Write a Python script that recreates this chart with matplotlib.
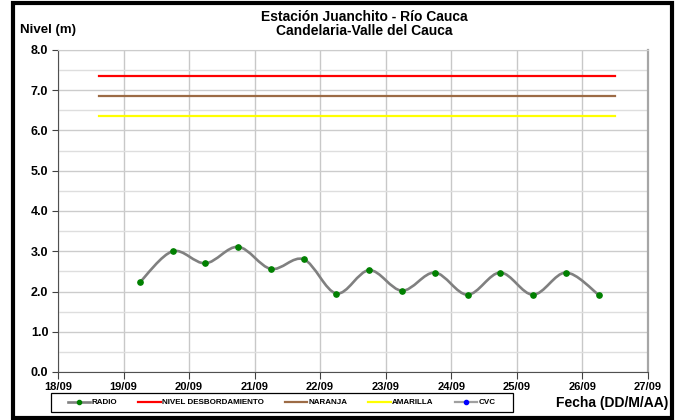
import numpy as np
import matplotlib
matplotlib.use('Agg')
import matplotlib.pyplot as plt
import matplotlib.dates as mdates
from matplotlib.lines import Line2D
from matplotlib.path import Path
from matplotlib.patches import PathPatch, Rectangle
from matplotlib.ticker import MultipleLocator, FormatStrFormatter

plt.rcParams['font.family'] = ['Liberation Sans', 'DejaVu Sans']
plt.rcParams['font.weight'] = 'bold'

W, H = 679, 420

# radio readings every 12 h
radio_times = np.array(['2021-09-19T06:00', '2021-09-19T18:00', '2021-09-20T06:00',
                        '2021-09-20T18:00', '2021-09-21T06:00', '2021-09-21T18:00',
                        '2021-09-22T06:00', '2021-09-22T18:00', '2021-09-23T06:00',
                        '2021-09-23T18:00', '2021-09-24T06:00', '2021-09-24T18:00',
                        '2021-09-25T06:00', '2021-09-25T18:00', '2021-09-26T06:00'],
                       dtype='datetime64[m]')
radio_level = [2.23, 3.00, 2.70, 3.11, 2.56, 2.80, 1.95, 2.53,
               2.02, 2.47, 1.92, 2.47, 1.92, 2.47, 1.92]

# alert thresholds
threshold_span = np.array(['2021-09-18T15:00', '2021-09-26T12:00'], dtype='datetime64[m]')
nivel_desbordamiento = 7.35
naranja = 6.85
amarilla = 6.35

cvc_times = []
cvc_level = []

x_start = np.datetime64('2021-09-18T00:00')
x_end = np.datetime64('2021-09-27T00:00')


def to_num(t):
    return mdates.date2num(np.asarray(t).astype('datetime64[s]').astype(object))


def smooth_path(xs, ys):
    # excel style smoothed line: cubic bezier through every point
    pts = np.column_stack([xs, ys])
    n = len(pts)
    verts = [pts[0]]
    codes = [Path.MOVETO]
    for i in range(n - 1):
        p0 = pts[i - 1] if i > 0 else pts[i]
        p1, p2 = pts[i], pts[i + 1]
        p3 = pts[i + 2] if i + 2 < n else pts[i + 1]
        verts += [p1 + (p2 - p0) / 6.0, p2 - (p3 - p1) / 6.0, p2]
        codes += [Path.CURVE4] * 3
    return Path(verts, codes)


fig = plt.figure(figsize=(W / 100, H / 100), dpi=100)
ax = fig.add_axes([58 / W, 1 - 372 / H, (647.7 - 58) / W, (372 - 50) / H])

# threshold lines
span_num = to_num(threshold_span)
ax.plot(span_num, [nivel_desbordamiento] * 2, color='#ff0000', lw=1.6, zorder=3)
ax.plot(span_num, [naranja] * 2, color='#9c6b45', lw=1.6, zorder=3)
ax.plot(span_num, [amarilla] * 2, color='#ffff00', lw=1.6, zorder=3)

# radio series
rx = to_num(radio_times)
ax.add_patch(PathPatch(smooth_path(rx, np.array(radio_level)), facecolor='none',
                       edgecolor='#808080', lw=1.9, zorder=4))
ax.plot(rx, radio_level, linestyle='none', marker='o', ms=3.8,
        mfc='#008000', mec='#008000', zorder=5)
ax.plot(cvc_times, cvc_level, color='#a0a0a0', marker='o', mfc='#0000ff')

ax.set_xlim(to_num(x_start), to_num(x_end))
ax.set_ylim(0, 8)
ax.xaxis.set_major_locator(mdates.DayLocator())
ax.xaxis.set_major_formatter(mdates.DateFormatter('%d/%m'))
ax.yaxis.set_major_locator(MultipleLocator(1))
ax.yaxis.set_minor_locator(MultipleLocator(0.5))
ax.yaxis.set_major_formatter(FormatStrFormatter('%.1f'))

ax.grid(axis='y', which='major', color='#cccccc', lw=1.0)
ax.grid(axis='y', which='minor', color='#dedede', lw=1.0)
ax.grid(axis='x', which='major', color='#c8c8c8', lw=1.0)
ax.set_axisbelow(True)

ax.tick_params(axis='y', which='major', length=4, width=0.8, color='#404040',
               labelsize=9, pad=3)
ax.tick_params(axis='y', which='minor', length=0)
ax.tick_params(axis='x', which='major', length=5, width=0.8, color='#404040',
               labelsize=8, pad=2)
for lab in ax.get_xticklabels() + ax.get_yticklabels():
    lab.set_fontweight('bold')

ax.spines['left'].set_color('#505050')
ax.spines['bottom'].set_color('#505050')
ax.spines['right'].set_color('#a6a6a6')
ax.spines['right'].set_linewidth(1.6)
ax.spines['top'].set_color('#cccccc')

# texts
fig.text(364 / W, 1 - 17 / H, 'Estación Juanchito - Río Cauca', ha='center', va='center',
         fontsize=10, fontweight='bold')
fig.text(364 / W, 1 - 31 / H, 'Candelaria-Valle del Cauca', ha='center', va='center',
         fontsize=10, fontweight='bold')
fig.text(20 / W, 1 - 30 / H, 'Nivel (m)', ha='left', va='center',
         fontsize=9.5, fontweight='bold')
fig.text(612 / W, 1 - 403 / H, 'Fecha (DD/M/AA)', ha='center', va='center',
         fontsize=10, fontweight='bold')

# legend
handles = [
    Line2D([], [], color='#808080', lw=1.9, marker='o', ms=3, mfc='#008000', mec='#008000'),
    Line2D([], [], color='#ff0000', lw=1.6),
    Line2D([], [], color='#9c6b45', lw=1.6),
    Line2D([], [], color='#ffff00', lw=1.6),
    Line2D([], [], color='#a0a0a0', lw=1.6, marker='o', ms=3, mfc='#0000ff', mec='#0000ff'),
]
labels = ['RADIO', 'NIVEL DESBORDAMIENTO', 'NARANJA', 'AMARILLA', 'CVC']
fig.legend(handles, labels, loc='center', bbox_to_anchor=(281.7 / W, 1 - 402.5 / H),
           ncol=5, frameon=False, prop={'size': 5.8, 'weight': 'bold'},
           handlelength=2.8, handletextpad=0.15, columnspacing=2.6)
fig.patches.append(Rectangle((50.7 / W, 1 - 411.7 / H), (512.7 - 50.7) / W, 18.4 / H,
                             transform=fig.transFigure, fill=False, ec='black', lw=0.9))

# outer frame
fig.patches.append(Rectangle((13 / W, 1 - 417.7 / H), (671.7 - 13) / W, (417.7 - 3) / H,
                             transform=fig.transFigure, fill=False, ec='black', lw=3))

fig.savefig('out.png', dpi=100)
